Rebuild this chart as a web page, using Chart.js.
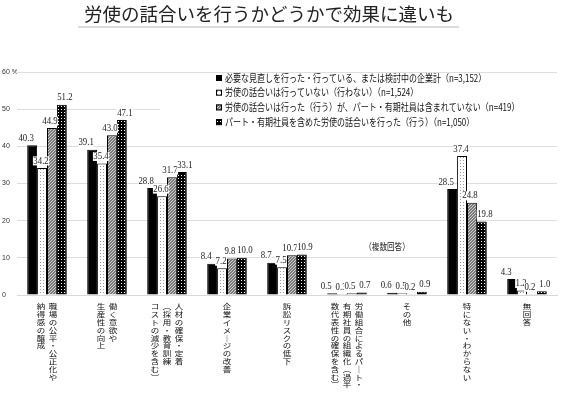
<!DOCTYPE html>
<html>
<head>
<meta charset="utf-8">
<script src="https://cdn.jsdelivr.net/npm/chart.js@4.4.1/dist/chart.umd.min.js"></script>
<style>
  html, body { margin: 0; padding: 0; background: #fff; }
  #wrap { width: 561px; height: 395px; position: relative; }
</style>
</head>
<body>
<div id="wrap"><canvas id="chart01"></canvas></div>
<script>
// 労使の話合いの有無別にみた効果（複数回答）
var chartTitle = '労使の話合いを行うかどうかで効果に違いも';
var noteText = '（複数回答）';

// カテゴリ（縦書き、右の列から）
var categories = [
  ['職場の公平・公正化や', '納得感の醸成'],
  ['働く意欲や', '生産性の向上'],
  ['人材の確保・定着', '（採用・教育訓練', 'コストの減少を含む）'],
  ['企業イメージの改善'],
  ['訴訟リスクの低下'],
  ['労働組合によるパート・', '有期社員の組織化（過半', '数代表性の確保を含む）'],
  ['その他'],
  ['特にない・わからない'],
  ['無回答']
];

var seriesNames = [
  '必要な見直しを行った・行っている、または検討中の企業計（n=3,152）',
  '労使の話合いは行っていない（行わない）（n=1,524）',
  '労使の話合いは行った（行う）が、パート・有期社員は含まれていない（n=419）',
  'パート・有期社員を含めた労使の話合いを行った（行う）（n=1,050）'
];

var totalVals   = [40.3, 39.1, 28.8, 8.4, 8.7, 0.5, 0.6, 28.5, 4.3];
var noTalkVals  = [34.2, 35.4, 26.6, 7.2, 7.5, 0.3, 0.5, 37.4, 1.2];
var exclVals    = [44.9, 43.0, 31.7, 9.8, 10.7, 0.5, 0.2, 24.8, 0.2];
var inclVals    = [51.2, 47.1, 33.1, 10.0, 10.9, 0.7, 0.9, 19.8, 1.0];

var yTicks = [0, 10, 20, 30, 40, 50, 60];

// 模様を作る
function makePattern(size, bg, fg, dots) {
  var c = document.createElement('canvas');
  c.width = size; c.height = size;
  var g = c.getContext('2d');
  g.fillStyle = bg;
  g.fillRect(0, 0, size, size);
  g.fillStyle = fg;
  dots.forEach(function(d) { g.fillRect(d[0], d[1], 1, 1); });
  return g.createPattern(c, 'repeat');
}
var patWhite = makePattern(3, '#ffffff', '#9a9a9a', [[1, 1]]);
var patGray  = makePattern(3, '#7a7a7a', '#d0d0d0', [[0, 0], [2, 1], [1, 2]]);
var patBlack = makePattern(3, '#000000', '#ffffff', [[1, 1]]);
var fills = ['#000000', patWhite, patGray, patBlack];

var JP = '"Noto Sans CJK JP", sans-serif';
var labelShift = [-6, -1, -2, 3];  // 数値ラベルの横ずらし（重なり回避）

function vChar(ch) {
  if (ch === '（') return '︵';
  if (ch === '）') return '︶';
  if (ch === 'ー') return '｜';
  return ch;
}

var customDraw = {
  id: 'customDraw',
  beforeDraw: function(chart) {
    var ctx = chart.ctx;
    ctx.save();
    ctx.fillStyle = '#fff';
    ctx.fillRect(0, 0, chart.width, chart.height);
    ctx.restore();
  },
  afterDatasetsDraw: function(chart) {
    var ctx = chart.ctx;
    ctx.save();
    ctx.font = '10px "Liberation Serif", serif';
    ctx.textAlign = 'center';
    ctx.textBaseline = 'middle';
    chart.data.datasets.forEach(function(ds, i) {
      var meta = chart.getDatasetMeta(i);
      meta.data.forEach(function(bar, j) {
        var txt = ds.data[j].toFixed(1);
        var x = bar.x + labelShift[i];
        var y = bar.y - 7;
        ctx.save();
        ctx.translate(x, y);
        ctx.scale(0.88, 1);
        var w = ctx.measureText(txt).width;
        ctx.fillStyle = '#fff';
        ctx.fillRect(-w / 2 - 0.5, -4.5, w + 1, 9);
        ctx.fillStyle = '#222';
        ctx.fillText(txt, 0, 0);
        ctx.restore();
      });
    });
    ctx.restore();
  },
  afterDraw: function(chart) {
    var ctx = chart.ctx;
    var xs = chart.scales.x;
    var ys = chart.scales.y;
    ctx.save();

    // タイトル
    ctx.fillStyle = '#222';
    ctx.font = '18.5px ' + JP;
    ctx.textAlign = 'center';
    ctx.textBaseline = 'middle';
    ctx.fillText(chartTitle, 269, 14);
    ctx.strokeStyle = '#d0d0d0';
    ctx.lineWidth = 1.5;
    ctx.beginPath();
    ctx.moveTo(78, 27);
    ctx.lineTo(459, 27);
    ctx.stroke();

    // 凡例
    ctx.fillStyle = '#fff';
    ctx.fillRect(160, 75, 401, 64);
    ctx.textAlign = 'left';
    ctx.textBaseline = 'middle';
    seriesNames.forEach(function(name, i) {
      var y = 78 + i * 14.7;
      ctx.fillStyle = fills[i];
      ctx.fillRect(216, y - 3, 6, 6);
      ctx.strokeStyle = '#000';
      ctx.lineWidth = 1;
      ctx.strokeRect(216.5, y - 2.5, 5, 5);
      ctx.save();
      ctx.translate(225, y);
      ctx.scale(0.8, 1);
      ctx.fillStyle = '#111';
      ctx.font = '10px ' + JP;
      ctx.fillText(name, 0, 0);
      ctx.restore();
    });

    // （複数回答）
    ctx.save();
    ctx.translate(387, 246);
    ctx.scale(0.8, 1);
    ctx.textAlign = 'center';
    ctx.fillStyle = '#222';
    ctx.font = '9.5px ' + JP;
    ctx.fillText(noteText, 0, 0);
    ctx.restore();

    // 縦書きの項目名
    ctx.font = '8.5px ' + JP;
    ctx.textAlign = 'center';
    ctx.textBaseline = 'top';
    ctx.fillStyle = '#111';
    var colGap = 12, step = 7.8;
    categories.forEach(function(cols, i) {
      var cx = xs.getPixelForValue(i);
      var n = cols.length;
      cols.forEach(function(col, k) {
        var x = cx + (n - 1) / 2 * colGap - k * colGap;
        Array.from(col).forEach(function(ch, m) {
          ctx.save();
          ctx.translate(x, ys.bottom + 8 + m * step);
          ctx.scale(1, 0.86);
          ctx.fillText(vChar(ch), 0, 0);
          ctx.restore();
        });
      });
    });
    ctx.restore();
  }
};

var datasets = [totalVals, noTalkVals, exclVals, inclVals].map(function(vals, i) {
  return {
    label: seriesNames[i],
    data: vals,
    backgroundColor: fills[i],
    borderColor: '#000',
    borderWidth: 1,
    categoryPercentage: 0.66,
    barPercentage: 1.0
  };
});

var ctx = document.getElementById('chart01');
var myBarChart = new Chart(ctx, {
  type: 'bar',
  data: {
    labels: categories.map(function(c) { return c.join(''); }),
    datasets: datasets
  },
  options: {
    responsive: true,
    maintainAspectRatio: false,
    animation: false,
    layout: {
      padding: { left: 2, right: 4, top: 72, bottom: 100 }
    },
    plugins: {
      legend: { display: false },
      title: { display: false },
      tooltip: { enabled: false }
    },
    scales: {
      x: {
        grid: { display: false, drawTicks: false },
        border: { display: true, color: '#d9d9d9' },
        ticks: { display: false }
      },
      y: {
        min: 0,
        max: 60,
        afterBuildTicks: function(scale) {
          scale.ticks = yTicks.map(function(v) { return { value: v }; });
        },
        afterFit: function(scale) { scale.width = 15; },
        grid: { color: '#dedede', lineWidth: 1, drawTicks: false },
        border: { display: false },
        ticks: {
          crossAlign: 'far',
          padding: 2,
          color: '#333',
          font: { family: '"Liberation Sans", sans-serif', size: 7 },
          callback: function(v) { return v === 60 ? '60 %' : v; }
        }
      }
    }
  },
  plugins: [customDraw]
});
</script>
</body>
</html>
